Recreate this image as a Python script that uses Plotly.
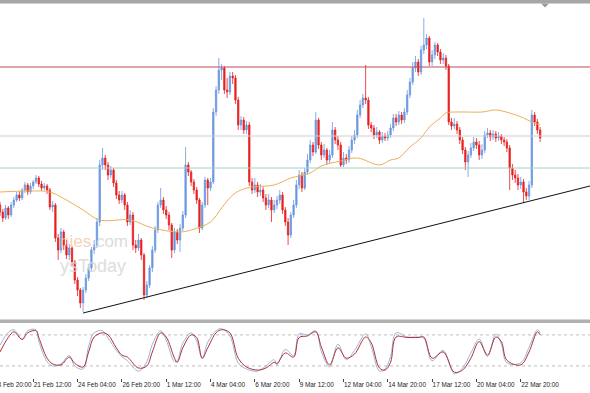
import plotly.graph_objects as go

# ---------------- data ----------------
bars = list(range(196))

opens = [125,118,112,122,115,125,130,135,132,140,
         145,138,144,148,152,146,142,144,140,123,
         125,92,80,98,85,75,82,68,50,40,
         27,40,52,62,80,85,108,165,172,165,
         155,160,147,135,130,135,125,108,115,85,
         82,90,75,35,45,62,80,100,125,130,
         120,115,105,80,98,90,102,115,165,158,
         148,140,130,102,125,150,142,148,218,240,
         260,262,240,238,254,252,230,205,210,200,
         205,148,140,145,138,140,132,125,130,120,
         125,130,135,120,108,95,115,125,145,155,
         142,158,170,185,178,210,185,175,180,170,
         175,200,190,185,165,172,170,180,190,195,
         215,225,232,230,205,202,195,198,190,194,
         192,195,202,212,208,215,210,218,235,248,
         262,268,258,280,285,292,268,275,285,278,
         270,272,264,208,204,206,200,190,180,168,
         175,182,188,185,175,180,195,197,193,196,
         192,194,190,188,182,162,155,152,145,148,
         138,134,145,215,208,200]

closes = [118,112,122,115,125,130,135,132,140,145,
          138,144,148,152,146,142,144,140,123,125,
          92,80,98,85,75,82,68,50,40,27,
          40,52,62,80,85,108,165,172,165,155,
          160,147,135,130,135,125,108,115,85,82,
          90,75,35,45,62,80,100,125,130,120,
          115,105,80,98,90,102,115,165,158,148,
          140,130,102,125,150,142,148,218,240,260,
          262,240,238,254,252,230,205,210,200,205,
          148,140,145,138,140,132,125,130,120,125,
          130,135,120,108,95,115,125,145,155,142,
          158,170,185,178,210,185,175,180,170,175,
          200,190,185,165,172,170,180,190,195,215,
          225,232,230,205,202,195,198,190,194,192,
          195,202,212,208,215,210,218,235,248,262,
          268,258,280,285,292,268,275,285,278,270,
          272,264,208,204,206,200,190,180,168,175,
          182,188,185,175,180,195,197,193,196,192,
          194,190,188,182,162,155,152,145,148,138,
          134,145,215,208,200,192]

highs = [128,121,125,124,128,133,138,139,142,148,
         147,147,150,155,154,149,147,146,142,129,
         127,96,102,100,90,86,84,70,53,42,
         43,56,66,83,90,112,170,182,175,168,
         164,162,150,139,139,137,128,120,118,90,
         96,92,77,49,65,84,104,128,142,133,
         124,118,107,102,101,106,119,183,168,160,
         151,143,132,128,153,152,152,222,244,272,
         266,264,252,258,258,255,233,214,213,209,
         208,152,152,148,146,143,136,136,133,130,
         134,140,138,123,112,118,130,150,160,158,
         162,176,190,188,218,212,188,186,182,180,
         208,203,194,188,178,176,184,194,200,220,
         230,236,265,233,208,205,203,200,198,197,
         199,206,216,216,219,218,222,240,252,268,
         274,271,284,312,296,294,280,288,287,281,
         277,275,266,212,212,209,203,193,183,179,
         187,193,192,189,186,199,202,200,200,199,
         198,196,193,191,185,166,160,156,153,151,
         142,149,220,218,211,203]

lows = [114,108,110,111,113,122,128,129,130,137,
        135,136,141,146,143,139,140,136,120,118,
        88,70,77,80,71,70,64,46,34,22,
        18,37,49,59,76,82,104,160,160,150,
        152,143,131,126,127,120,104,105,80,77,
        79,70,30,32,42,58,77,97,122,116,
        111,100,72,77,86,78,99,112,154,144,
        136,126,97,100,122,125,139,146,214,236,
        250,236,232,235,246,226,200,200,196,196,
        144,136,137,133,134,128,120,122,108,117,
        121,126,116,104,85,92,112,122,141,138,
        140,155,167,174,176,181,170,172,165,167,
        172,186,180,163,163,166,167,177,186,192,
        212,222,226,201,198,191,192,186,187,189,
        189,192,199,204,205,206,207,215,232,245,
        258,254,255,276,281,264,264,271,274,266,
        266,260,205,200,201,196,186,176,160,153,
        172,179,181,170,171,177,192,189,190,188,
        189,186,184,178,140,150,147,140,141,127,
        130,130,142,204,196,188]

# moving average
ma_x = [0, 11, 18, 24, 30, 36, 47, 55, 65, 69, 76, 80, 84, 87, 91, 99, 105,
        112, 116, 123, 129, 137, 141, 144, 148, 152, 155, 159, 161, 165, 174,
        179, 184, 189, 192, 195]
ma_y = [138, 139, 138, 130, 120, 110, 110, 102, 98, 100, 108, 122, 135, 140,
        143, 145, 152, 157, 164, 169, 172, 165, 170, 172, 183, 192, 203, 212,
        217, 218, 218, 220, 217, 212, 208, 205]

# trend line and horizontal levels
trend_x = [30, 213]
trend_y = [17, 144]
levels = [263, 194, 162]
level_colors = ["#c0485a", "#cfcfcf", "#a9cfc0"]

# stochastic oscillator
stoch_x = [0, 3, 5, 8, 10, 13, 14, 17, 19, 22, 25, 27, 30, 32, 34, 37, 39, 42,
           44, 46, 50, 53, 55, 58, 60, 63, 64, 66, 69, 71, 73, 75, 78, 80, 83,
           86, 89, 93, 96, 99, 100, 103, 106, 108, 111, 114, 116, 119, 122,
           125, 128, 132, 134, 137, 139, 141, 143, 147, 151, 153, 156, 160,
           164, 167, 170, 173, 176, 179, 181, 183, 188, 191, 194, 195]
stoch_d = [47, 75, 86, 71, 84, 88, 75, 35, 24, 22, 37, 25, 18, 47, 76, 84, 80,
           55, 41, 37, 16, 20, 47, 84, 76, 35, 27, 55, 80, 75, 35, 55, 84, 90,
           84, 35, 18, 12, 16, 27, 25, 45, 37, 75, 78, 86, 57, 22, 55, 35, 43,
           76, 65, 16, 12, 27, 76, 75, 75, 76, 35, 47, 8, 12, 35, 67, 41, 76,
           67, 31, 22, 47, 86, 80]
stoch_k = [60, 85, 90, 72, 88, 90, 68, 28, 20, 24, 40, 20, 14, 58, 84, 88, 74,
           50, 38, 30, 10, 28, 62, 88, 70, 28, 30, 64, 84, 68, 34, 66, 88, 92,
           78, 26, 14, 10, 20, 32, 22, 52, 40, 82, 80, 88, 48, 18, 62, 32, 50,
           82, 58, 10, 14, 38, 84, 76, 76, 74, 30, 50, 5, 16, 45, 72, 38, 82,
           62, 26, 26, 56, 90, 84]
stoch_levels = [20, 80]

# time axis
tick_bars = [-4, 12, 28, 44, 60, 76, 92, 108, 124, 140, 156, 172, 188]
tick_text = ["18 Feb 20:00", "21 Feb 12:00", "24 Feb 04:00", "26 Feb 20:00",
             "1 Mar 12:00", "4 Mar 04:00", "6 Mar 20:00", "9 Mar 12:00",
             "12 Mar 04:00", "14 Mar 20:00", "17 Mar 12:00", "20 Mar 04:00",
             "22 Mar 20:00"]

# ---------------- figure ----------------
W, H = 590, 393
X_RANGE = [0, 213]
BLUE = "#6a98e0"
RED = "#e82020"

def fy(px):
    return 1 - px / H

def bar_to_paper(b):
    return (b - X_RANGE[0]) / (X_RANGE[1] - X_RANGE[0])

fig = go.Figure()

for lv, col in zip(levels, level_colors):
    fig.add_trace(go.Scatter(x=X_RANGE, y=[lv, lv], mode="lines",
                             line=dict(color=col, width=1), hoverinfo="skip",
                             showlegend=False, xaxis="x", yaxis="y"))

fig.add_trace(go.Scatter(x=ma_x, y=ma_y, mode="lines",
                         line=dict(color="#eab05a", width=1, shape="spline"),
                         showlegend=False, xaxis="x", yaxis="y"))

fig.add_trace(go.Candlestick(
    x=bars, open=opens, high=highs, low=lows, close=closes,
    increasing=dict(line=dict(color=BLUE, width=0.8), fillcolor=BLUE),
    decreasing=dict(line=dict(color=RED, width=0.8), fillcolor=RED),
    whiskerwidth=0, showlegend=False, xaxis="x", yaxis="y"))

fig.add_trace(go.Scatter(x=trend_x, y=trend_y, mode="lines",
                         line=dict(color="#111111", width=1),
                         showlegend=False, xaxis="x", yaxis="y"))

for lv in stoch_levels:
    fig.add_trace(go.Scatter(x=X_RANGE, y=[lv, lv], mode="lines",
                             line=dict(color="#bdbdbd", width=1, dash="3px,3px"),
                             showlegend=False, xaxis="x2", yaxis="y2"))

fig.add_trace(go.Scatter(x=stoch_x, y=stoch_k, mode="lines",
                         line=dict(color="#9db4dc", width=1, shape="spline"),
                         showlegend=False, xaxis="x2", yaxis="y2"))
fig.add_trace(go.Scatter(x=stoch_x, y=stoch_d, mode="lines",
                         line=dict(color="#b0303a", width=1, shape="spline"),
                         showlegend=False, xaxis="x2", yaxis="y2"))

shapes = [
    dict(type="rect", xref="paper", yref="paper", x0=0, x1=1,
         y0=fy(3.5), y1=1, fillcolor="#a6a6a6", line=dict(width=0), layer="above"),
    dict(type="rect", xref="paper", yref="paper", x0=0, x1=1,
         y0=fy(323), y1=fy(319.5), fillcolor="#b0b0b0", line=dict(width=0), layer="above"),
    dict(type="path", xref="paper", yref="paper",
         path=f"M {541/W} {fy(3.5)} L {549/W} {fy(3.5)} L {545/W} {fy(7.5)} Z",
         fillcolor="#9a9a9a", line=dict(width=0)),
]

annotations = [
    dict(text="<span style='color:#f6c9ad'>nies</span><span style='color:#d6d6d6'>.com</span>",
         xref="paper", yref="paper", x=58 / W, y=fy(241), xanchor="left", yanchor="middle",
         showarrow=False, font=dict(family="Liberation Sans", size=17), opacity=0.85),
    dict(text="ysToday", xref="paper", yref="paper", x=58 / W, y=fy(266),
         xanchor="left", yanchor="middle", showarrow=False,
         font=dict(family="Liberation Sans", size=18, color="#d8d8d8"), opacity=0.85),
    # first time label: its tick lies just left of the visible area, so only part shows
    dict(text=tick_text[0], xref="paper", yref="paper", x=bar_to_paper(tick_bars[0]),
         y=fy(384), xanchor="left", yanchor="middle", xshift=3, showarrow=False,
         font=dict(family="Liberation Sans", size=6.4, color="#222222")),
]

fig.update_layout(
    width=W, height=H, margin=dict(l=0, r=0, t=0, b=0, autoexpand=False),
    paper_bgcolor="white", plot_bgcolor="white",
    showlegend=False, shapes=shapes, annotations=annotations,
    xaxis=dict(domain=[0, 1], range=X_RANGE, showgrid=False, zeroline=False,
               showticklabels=False, rangeslider=dict(visible=False),
               anchor="y", automargin=False),
    yaxis=dict(domain=[fy(318), fy(5)], range=[12, 325], showgrid=False,
               zeroline=False, showticklabels=False, anchor="x", automargin=False),
    xaxis2=dict(domain=[0, 1], range=X_RANGE, showgrid=False, zeroline=False,
                anchor="y2", tickmode="array", tickvals=tick_bars[1:],
                ticktext=tick_text[1:], ticks="outside", ticklen=3, tickangle=0,
                tickcolor="#444444", ticklabelposition="outside right",
                automargin=False,
                tickfont=dict(family="Liberation Sans", size=6.4, color="#222222")),
    yaxis2=dict(domain=[fy(378), fy(323)], range=[-3.3, 103], showgrid=False,
                zeroline=False, showticklabels=False, anchor="x2", automargin=False),
)

fig.write_html("out.html")
